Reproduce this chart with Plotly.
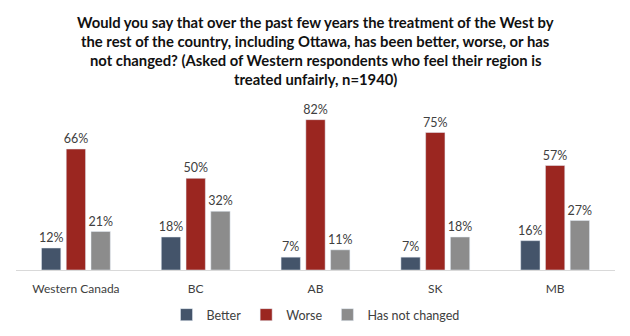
import plotly.graph_objects as go

categories = ["Western Canada", "BC", "AB", "SK", "MB"]
better = [12, 18, 7, 7, 16]
worse = [66, 50, 82, 75, 57]
not_changed = [21, 32, 11, 18, 27]
series_names = ["Better", "Worse", "Has not changed"]
colors = ["#44546A", "#9B2620", "#8C8C8C"]

title_lines = [
    "Would you say that over the past few years the treatment of the West by",
    "the rest of the country, including Ottawa, has been better, worse, or has",
    "not changed? (Asked of Western respondents who feel their region is",
    "treated unfairly, n=1940)",
]

FONT = "Lato, Open Sans, sans-serif"

fig = go.Figure()
for name, vals, c in zip(series_names, [better, worse, not_changed], colors):
    fig.add_trace(go.Bar(
        x=categories, y=vals, name=name, marker_color=c,
        text=[f"{v}%" for v in vals], textposition="outside",
        constraintext="none",
        textfont=dict(size=12.5, color="#404040", family=FONT), cliponaxis=False,
    ))

plot_h = 165
for i, line in enumerate(title_lines):
    ypix = 22 + i * 19
    fig.add_annotation(text=f"<b>{line}</b>", xref="paper", yref="paper",
                       x=0.5, xanchor="center", y=(270 - ypix) / plot_h, yanchor="middle",
                       showarrow=False, font=dict(size=14.8, color="#111111", family=FONT))

fig.update_layout(
    width=630, height=336,
    margin=dict(l=16, r=15, t=105, b=66, autoexpand=False),
    paper_bgcolor="white", plot_bgcolor="white",
    font=dict(family=FONT, color="#404040", size=12.5),
    barmode="group", bargap=0.38, bargroupgap=0.22,
    legend=dict(orientation="h", x=0.5, xanchor="center",
                yref="container", y=(336 - 315) / 336, yanchor="middle",
                font=dict(size=12.5, color="#404040", family=FONT), itemwidth=30,
                traceorder="normal"),
    xaxis=dict(showline=True, linecolor="#D9D9D9", linewidth=1, ticks="",
               ticklabelstandoff=8, automargin=False,
               tickfont=dict(size=12, color="#404040", family=FONT)),
    yaxis=dict(visible=False, range=[0, 90], automargin=False),
)

fig.write_html("out.html")
